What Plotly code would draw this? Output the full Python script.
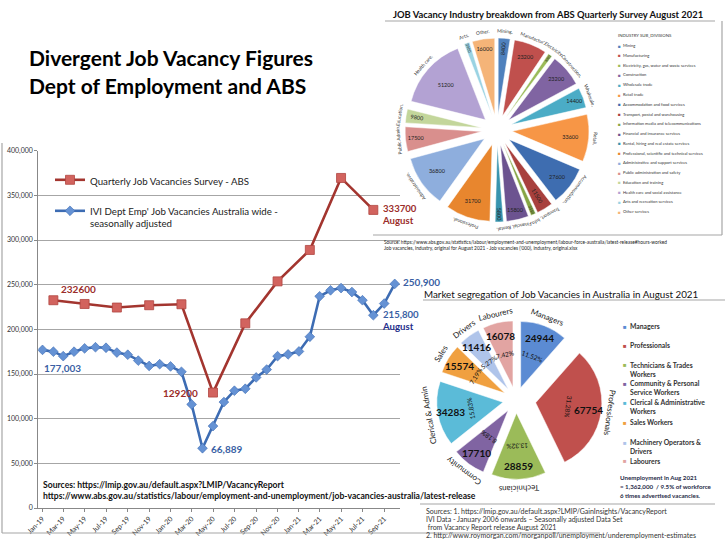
import math
import pandas as pd
import plotly.graph_objects as go

W, H = 725, 544
FONT = "Lato"

# ---------------- data: line chart ----------------
IVI_MONTHS = pd.date_range("2019-01-01", "2021-10-01", freq="MS").strftime("%Y-%m-%d").tolist()
IVI_VALUES = [177003, 175000, 170000, 175000, 178700, 180000, 179400, 174000, 171600, 165000, 159000, 161000,
              158500, 152500, 116000, 66889, 91700, 118600, 131300, 133500, 146200, 155000, 170000, 172000,
              175300, 191700, 237000, 243700, 246200, 241800, 232600, 215800, 228900, 250900]
ABS_MONTHS = ["2019-02-01", "2019-05-01", "2019-08-01", "2019-11-01", "2020-02-01", "2020-05-01",
              "2020-08-01", "2020-11-01", "2021-02-01", "2021-05-01", "2021-08-01"]
ABS_VALUES = [232600, 228400, 224400, 227000, 228100, 129200, 206700, 253700, 288900, 369500, 333700]

# ---------------- data: industry pie ----------------
IND_NAMES = ["Mining", "Manufacturing", "Electricity, gas, water and waste services", "Construction",
             "Wholesale trade", "Retail trade", "Accommodation and food services",
             "Transport, postal and warehousing", "Information media and telecommunications",
             "Financial and insurance services", "Rental, hiring and real estate services",
             "Professional, scientific and technical services", "Administrative and support services",
             "Public administration and safety", "Education and training",
             "Health care and social assistance", "Arts and recreation services", "Other services"]
IND_VALUES = [8400, 23200, 3000, 23200, 14400, 33600, 27600, 11500, 3550, 15800, 5800, 31700,
              36800, 17500, 9800, 51200, 3900, 16000]
IND_TAGS = [("Mining,", 0, 0), ("Manufactur',", 1, 1), ("Electricity,", 2, 2), ("Construction,", 3, 3),
            ("Wholesale,", 4, 4), ("Retail,", 5, 5), ("Accommodation,", 6, 6),
            ("Transport, Info,", 7, 8), ("Financial, Rental,", 9, 10), ("Professional,", 11, 11),
            ("Administrative,", 12, 12), ("Public Admin,", 13, 13), ("Education,", 14, 14),
            ("Health care,", 15, 15), ("Arts,", 16, 16), ("Other.", 17, 17)]
IND_COLORS = ["#4F81BD", "#C0504D", "#9BBB59", "#8064A2", "#4BACC6", "#F79646",
              "#3E6DB0", "#A8403D", "#86A544", "#6C5390", "#3894AE", "#E8862E",
              "#8EAEDD", "#D98F8D", "#C3D69B", "#B3A2D3", "#9AD3E3", "#F5B478"]

# ---------------- data: occupation pie ----------------
OCC_NAMES = ["Managers", "Professionals", "Technicians & Trades<br>Workers",
             "Community & Personal<br>Service Workers", "Clerical & Administrative<br>Workers",
             "Sales Workers", "Machinery Operators &<br>Drivers", "Labourers"]
OCC_SHORT = ["Managers", "Professionals", "Technicians", "Community", "Clerical & Admin",
             "Sales", "Drivers", "Labourers"]
OCC_VALUES = [24944, 67754, 28859, 17710, 34283, 15574, 11416, 16078]
OCC_PULL = [0.2, 0.3, 0.2, 0.2, 0.2, 0.2, 0.2, 0.2]
OCC_COLORS = ["#5B8BD3", "#C0504D", "#9BBB59", "#8064A2", "#5BBBD8", "#F0A040", "#AFC4EA", "#E2A4A2"]


def px(x):
    return x / W


def py(y):
    return 1 - y / H


def spans(vals):
    tot = float(sum(vals))
    out, c = [], 0.0
    for v in vals:
        a0 = c / tot * 360
        c += v
        out.append((a0, c / tot * 360))
    return out


def norm(a):
    a = a % 360
    return a - 360 if a > 180 else a


fig = go.Figure()

# ---------------- line chart ----------------
fig.add_trace(go.Scatter(
    x=IVI_MONTHS, y=IVI_VALUES, mode="lines+markers",
    name="IVI Dept Emp' Job Vacancies Australia wide -<br>seasonally adjusted",
    line=dict(color="#3D6CB3", width=2.6),
    marker=dict(symbol="diamond", size=7.5, color="#6592D4", line=dict(color="#3D6CB3", width=0.6)),
    legendrank=2, legendgroup="b"))
fig.add_trace(go.Scatter(
    x=ABS_MONTHS, y=ABS_VALUES, mode="lines+markers",
    name="Quarterly Job Vacancies Survey - ABS",
    line=dict(color="#A3352F", width=2.6),
    marker=dict(symbol="square", size=9, color="#D2635E", line=dict(color="#B04540", width=0.8)),
    legendrank=1, legendgroup="a"))

# ---------------- pies ----------------
IND_C = (497, 130)
IND_HALF = 92
IND_P = 0.2
fig.add_trace(go.Pie(
    labels=IND_NAMES, values=IND_VALUES, sort=False, direction="clockwise", rotation=0,
    pull=[IND_P] * len(IND_VALUES),
    marker=dict(colors=IND_COLORS, line=dict(color="white", width=0.5)),
    texttemplate="%{value:.0f}", textposition="inside", insidetextorientation="auto",
    textfont=dict(family=FONT, size=5.5, color="#222"),
    domain=dict(x=[px(IND_C[0] - IND_HALF), px(IND_C[0] + IND_HALF)],
                y=[py(IND_C[1] + IND_HALF), py(IND_C[1] - IND_HALF)]),
    showlegend=False, hoverinfo="label+value"))

OCC_C = (516, 400)
OCC_HALF = 86
fig.add_trace(go.Pie(
    labels=[n.replace("<br>", " ") for n in OCC_NAMES], values=OCC_VALUES, sort=False,
    direction="clockwise", rotation=0, pull=OCC_PULL,
    marker=dict(colors=OCC_COLORS, line=dict(color="white", width=0.5)),
    textinfo="none",
    domain=dict(x=[px(OCC_C[0] - OCC_HALF), px(OCC_C[0] + OCC_HALF)],
                y=[py(OCC_C[1] + OCC_HALF), py(OCC_C[1] - OCC_HALF)]),
    showlegend=False, hoverinfo="label+value"))

ann = []


def pa(text, x, y, size, color="#222", xanchor="left", yanchor="middle", angle=0, align="left"):
    ann.append(dict(text=text, x=px(x), y=py(y), xref="paper", yref="paper", showarrow=False,
                    xanchor=xanchor, yanchor=yanchor, textangle=angle, align=align, borderpad=0,
                    font=dict(family=FONT, size=size, color=color)))


def da(text, x, y, dx, dy, size, color, xanchor="left"):
    ann.append(dict(text=text, x=x, y=y, xref="x", yref="y", showarrow=False, xshift=dx, yshift=dy,
                    xanchor=xanchor, yanchor="middle", borderpad=0, align="left",
                    font=dict(family=FONT, size=size, color=color)))


# titles
pa("<b>Divergent Job Vacancy Figures</b>", 28, 58, 21, "#000")
pa("<b>Dept of Employment and ABS</b>", 28, 85, 21, "#000")
pa("<b>JOB Vacancy Industry breakdown from ABS Quarterly Survey August 2021</b>", 392, 14, 9.4, "#111")
pa("Market segregation of Job Vacancies in Australia in August 2021", 423, 294, 9.8, "#111")

# line chart data labels
RED = "#9B2D2A"
BLUE = "#3A5FA4"
da("<b>232600</b>", ABS_MONTHS[0], ABS_VALUES[0], 25, 11, 10, RED, "center")
da("<b>129200</b>", ABS_MONTHS[5], ABS_VALUES[5], -33, 0, 10, RED, "center")
da("<b>333700<br>August</b>", ABS_MONTHS[-1], ABS_VALUES[-1], 8, -5, 9.6, RED)
da("<b>177,003</b>", IVI_MONTHS[0], IVI_VALUES[0], 0, -18, 10, BLUE)
da("<b>66,889</b>", IVI_MONTHS[15], IVI_VALUES[15], 8, -1, 10, BLUE)
da("<b>215,800<br><span style='color:#1F2E8C'>August</span></b>", IVI_MONTHS[31], IVI_VALUES[31],
   8, -5, 9.6, BLUE)
da("<b>250,900</b>", IVI_MONTHS[33], IVI_VALUES[33], 7, 2, 10, BLUE)

# sources inside line chart
pa("<b>Sources: https://lmip.gov.au/default.aspx?LMIP/VacancyReport</b>", 42, 485, 8.6, "#111")
pa("<b>https://www.abs.gov.au/statistics/labour/employment-and-unemployment/job-vacancies-australia/latest-release</b>",
   42, 496, 8.6, "#111")

# industry pie outside tags
ind_sp = spans(IND_VALUES)
ind_r = IND_HALF / (1 + IND_P)
for txt, i0, i1 in IND_TAGS:
    th = (ind_sp[i0][0] + ind_sp[i1][1]) / 2
    R = ind_r * (1 + IND_P) + 7
    x = IND_C[0] + R * math.sin(math.radians(th))
    y = IND_C[1] - R * math.cos(math.radians(th))
    pa(txt, x, y, 4.8, "#333", "center", "middle", norm(th), "center")

# industry legend
pa("INDUSTRY SUB_DIVISIONS", 617, 35, 4.3, "#333")
for i, (nm, col) in enumerate(zip(IND_NAMES, IND_COLORS)):
    yy = 45.7 + i * 9.76
    pa("■", 619, yy, 4.6, col, "center")
    pa(nm, 622, yy, 4.1, "#333")

# occupation pie: values, percents and outside names
occ_sp = spans(OCC_VALUES)
occ_r = OCC_HALF / (1 + max(OCC_PULL))
tot = sum(OCC_VALUES)
for i, (nm, v) in enumerate(zip(OCC_SHORT, OCC_VALUES)):
    th = (occ_sp[i][0] + occ_sp[i][1]) / 2
    s, c = math.sin(math.radians(th)), math.cos(math.radians(th))
    R = occ_r * (1 + OCC_PULL[i]) + 9
    pa(nm, OCC_C[0] + R * s, OCC_C[1] - R * c, 8, "#222", "center", "middle", norm(th), "center")
    Rp = occ_r * OCC_PULL[i] + 0.5 * occ_r
    pa("%.2f%%" % (100.0 * v / tot), OCC_C[0] + Rp * s, OCC_C[1] - Rp * c, 6.5, "#111",
       "center", "middle", norm(th), "center")
    Rv = occ_r * OCC_PULL[i] + 0.8 * occ_r
    pa("<b>%d</b>" % v, OCC_C[0] + Rv * s, OCC_C[1] - Rv * c, 10, "#111", "center", "middle")

# occupation legend
OCC_LEG_Y = [326, 345.3, 364.7, 383.3, 402.3, 422.3, 442.3, 460.7]
for nm, col, yy in zip(OCC_NAMES, OCC_COLORS, OCC_LEG_Y):
    pa("■", 625, yy, 6, col, "center")
    ann.append(dict(text="<b>" + nm + "</b>", x=px(629), y=py(yy - 5), xref="paper", yref="paper",
                    showarrow=False, xanchor="left", yanchor="top", align="left", borderpad=0,
                    font=dict(family=FONT, size=6.8, color="#333")))

# unemployment note
pa("<b>Unemployment in Aug 2021</b>", 619, 477, 6.2, "#1F2B48")
pa("<b>= 1,362,000  / 9.5% of workforce</b>", 619, 486, 6.2, "#1F2B48")
pa("<b>6 times advertised vacancies.</b>", 619, 495, 6.2, "#1F2B48")

# sources (top right)
pa("Source: https://www.abs.gov.au/statistics/labour/employment-and-unemployment/labour-force-australia/latest-release#hours-worked",
   383, 242.3, 4.8, "#222")
pa("Job vacancies, industry, original for August 2021 - Job vacancies ('000), industry, original.xlsx",
   383, 247.8, 4.8, "#222")

# sources (bottom right)
pa("Sources: 1. https://lmip.gov.au/default.aspx?LMIP/GainInsights/VacancyReport", 425, 510.7, 7, "#333")
pa("IVI Data - January 2006 onwards \u2013 Seasonally adjusted Data Set", 425, 518.5, 7, "#333")
pa(" from Vacancy Report release August 2021", 425, 526.5, 7, "#333")
pa("2. http://www.roymorgan.com/morganpoll/unemployment/underemployment-estimates", 425, 535.3, 7, "#333")

# frame lines
LC = "#A6A6A6"
shapes = []


def seg(x0, y0, x1, y1):
    shapes.append(dict(type="line", xref="paper", yref="paper", x0=px(x0), y0=py(y0), x1=px(x1),
                       y1=py(y1), line=dict(color=LC, width=1.2)))


seg(2, 143, 2, 533)
seg(2, 533, 600, 533)
seg(385, 21, 715, 21)
seg(722, 21, 722, 235)
seg(373, 235, 722, 235)
seg(423, 300, 725, 300)
seg(420, 504, 715, 504)

fig.update_layout(
    width=W, height=H, margin=dict(l=0, r=0, t=0, b=0, autoexpand=False),
    paper_bgcolor="white", plot_bgcolor="white",
    font=dict(family=FONT, color="#222"),
    annotations=ann, shapes=shapes,
    xaxis=dict(domain=[px(38.3), px(400)], type="date", range=["2018-12-20", "2021-10-16"],
               tickformat="%b-%y", dtick="M2", tick0="2019-01-01", tickangle=-45, automargin=False,
               tickfont=dict(family=FONT, size=7, color="#333"), showgrid=False,
               showline=True, linecolor="#888", ticks="outside", ticklen=3, tickcolor="#888"),
    yaxis=dict(domain=[py(508), py(150.7)], range=[0, 400000], dtick=50000, tickformat=",",
               automargin=False,
               tickfont=dict(family=FONT, size=7, color="#333"), showgrid=True,
               gridcolor="#A6A6A6", gridwidth=1, showline=True, linecolor="#888",
               ticks="outside", ticklen=3, tickcolor="#888", zeroline=False),
    legend=dict(x=px(50), y=py(167), xanchor="left", yanchor="top", bgcolor="rgba(0,0,0,0)",
                font=dict(family=FONT, size=9.7, color="#222"), traceorder="grouped",
                tracegroupgap=12, valign="top", itemwidth=30),
    showlegend=True,
)

fig.write_html("out.html", config={"displayModeBar": False},
               post_script="document.body.style.margin='0';document.body.style.overflow='hidden';"
                           "document.documentElement.style.overflow='hidden';")
